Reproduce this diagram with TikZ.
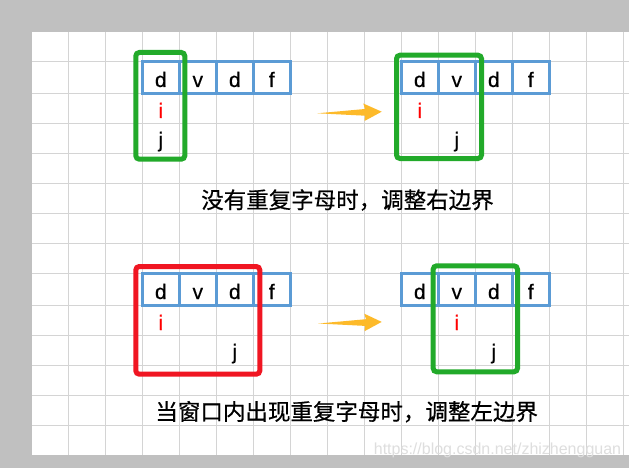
\documentclass[tikz,border=0pt]{standalone}
\usepackage{fontspec}
\setmainfont{Liberation Sans}
\newfontfamily\cjk{Noto Sans CJK SC}[FakeBold=0.6]
\newfontfamily\lettersf{Liberation Sans}[FakeBold=0.4]
\definecolor{bggray}{RGB}{192,192,192}
\definecolor{gridgray}{RGB}{212,212,212}
\definecolor{cellblue}{RGB}{91,155,213}
\definecolor{wingreen}{RGB}{34,170,42}
\definecolor{winred}{RGB}{240,22,34}
\definecolor{ired}{RGB}{255,0,0}
\definecolor{arrowcol}{RGB}{253,186,42}
\definecolor{wmark}{RGB}{222,222,222}
\tikzset{
  cell/.style={draw=cellblue, line width=2.6pt, minimum width=37pt, minimum height=32pt,
    inner sep=0pt, text height=19pt, text depth=0pt, font=\lettersf\fontsize{21}{21}\selectfont},
  ptr/.style={anchor=base, inner sep=0pt, font=\lettersf\fontsize{21}{21}\selectfont},
  win/.style={line width=5pt, rounded corners=3.5pt},
  caption/.style={font=\cjk\fontsize{22.5}{22.5}\selectfont, inner sep=0pt},
  blockarrow/.style={fill=arrowcol},
}
\begin{document}
\begin{tikzpicture}[x=1pt,y=-1pt]
\useasboundingbox (0,0) rectangle (629,468);
\fill[bggray] (0,0) rectangle (629,468);
\fill[white] (32,31.7) rectangle (629,455);
% grid
\foreach \gx in {68.3,105.3,...,630} {\draw[gridgray, line width=1pt] (\gx,31.7) -- (\gx,455);}
\foreach \gy in {61.7,93.3,123.3,153.3,183.3,213.3,243.3,273.3,305.7,335.7,365.7,395.3,425.3}
  {\draw[gridgray, line width=1pt] (32,\gy) -- (629,\gy);}

% ---------- top left ----------
\node[cell] (a1) at (160.8,77.5) {d};
\node[cell] (a2) at (197.8,77.5) {v};
\node[cell] (a3) at (234.8,77.5) {d};
\node[cell] (a4) at (271.8,77.5) {f};
\node[ptr, text=ired] (ai) at (160.8,118) {i};
\node[ptr] (aj) at (160.8,147) {j};
\draw[win, wingreen] (135.8,52.5) rectangle (184.8,159.2);

% ---------- top right ----------
\node[cell] (b1) at (419.8,77.5) {d};
\node[cell] (b2) at (456.8,77.5) {v};
\node[cell] (b3) at (493.8,77.5) {d};
\node[cell] (b4) at (530.8,77.5) {f};
\node[ptr, text=ired] (bi) at (419.8,118) {i};
\node[ptr] (bj) at (456.8,147) {j};
\draw[win, wingreen] (396.5,55.2) rectangle (481.5,158.5);

\coordinate (t1) at (317.3,113.3);
\fill[blockarrow, shift={(t1)}] (0,0) -- (47.7,-4.3) -- (46,-9.8) -- (64.4,-1.6) -- (47.2,7.7) -- (47.7,2.4) -- cycle;

\node[caption] (c1) at (347.5,200) {没有重复字母时，调整右边界};

% ---------- bottom left ----------
\node[cell] (d1) at (160.8,289.5) {d};
\node[cell] (d2) at (197.8,289.5) {v};
\node[cell] (d3) at (234.8,289.5) {d};
\node[cell] (d4) at (271.8,289.5) {f};
\node[ptr, text=ired] (di) at (160.8,330) {i};
\node[ptr] (dj) at (234.8,359) {j};
\draw[win, winred] (135.8,266.5) rectangle (259.8,374.2);

% ---------- bottom right ----------
\node[cell] (e1) at (419.8,289.5) {d};
\node[cell] (e2) at (456.8,289.5) {v};
\node[cell] (e3) at (493.8,289.5) {d};
\node[cell] (e4) at (530.8,289.5) {f};
\node[ptr, text=ired] (ei) at (456.8,330) {i};
\node[ptr] (ej) at (493.8,359) {j};
\draw[win, wingreen] (433.2,265.8) rectangle (517.5,371.8);

\coordinate (t2) at (318.3,323.5);
\fill[blockarrow, shift={(t2)}] (0,0) -- (47.7,-4.3) -- (46,-9.8) -- (63.4,-1.6) -- (46.2,7.7) -- (46.7,2.4) -- cycle;

\node[caption] (c2) at (346.7,411.7) {当窗口内出现重复字母时，调整左边界};

\node[font=\fontsize{16}{16}\selectfont, text=wmark, inner sep=0pt] (wm) at (497.5,450) {https://blog.csdn.net/zhizhengguan};
\end{tikzpicture}
\end{document}
